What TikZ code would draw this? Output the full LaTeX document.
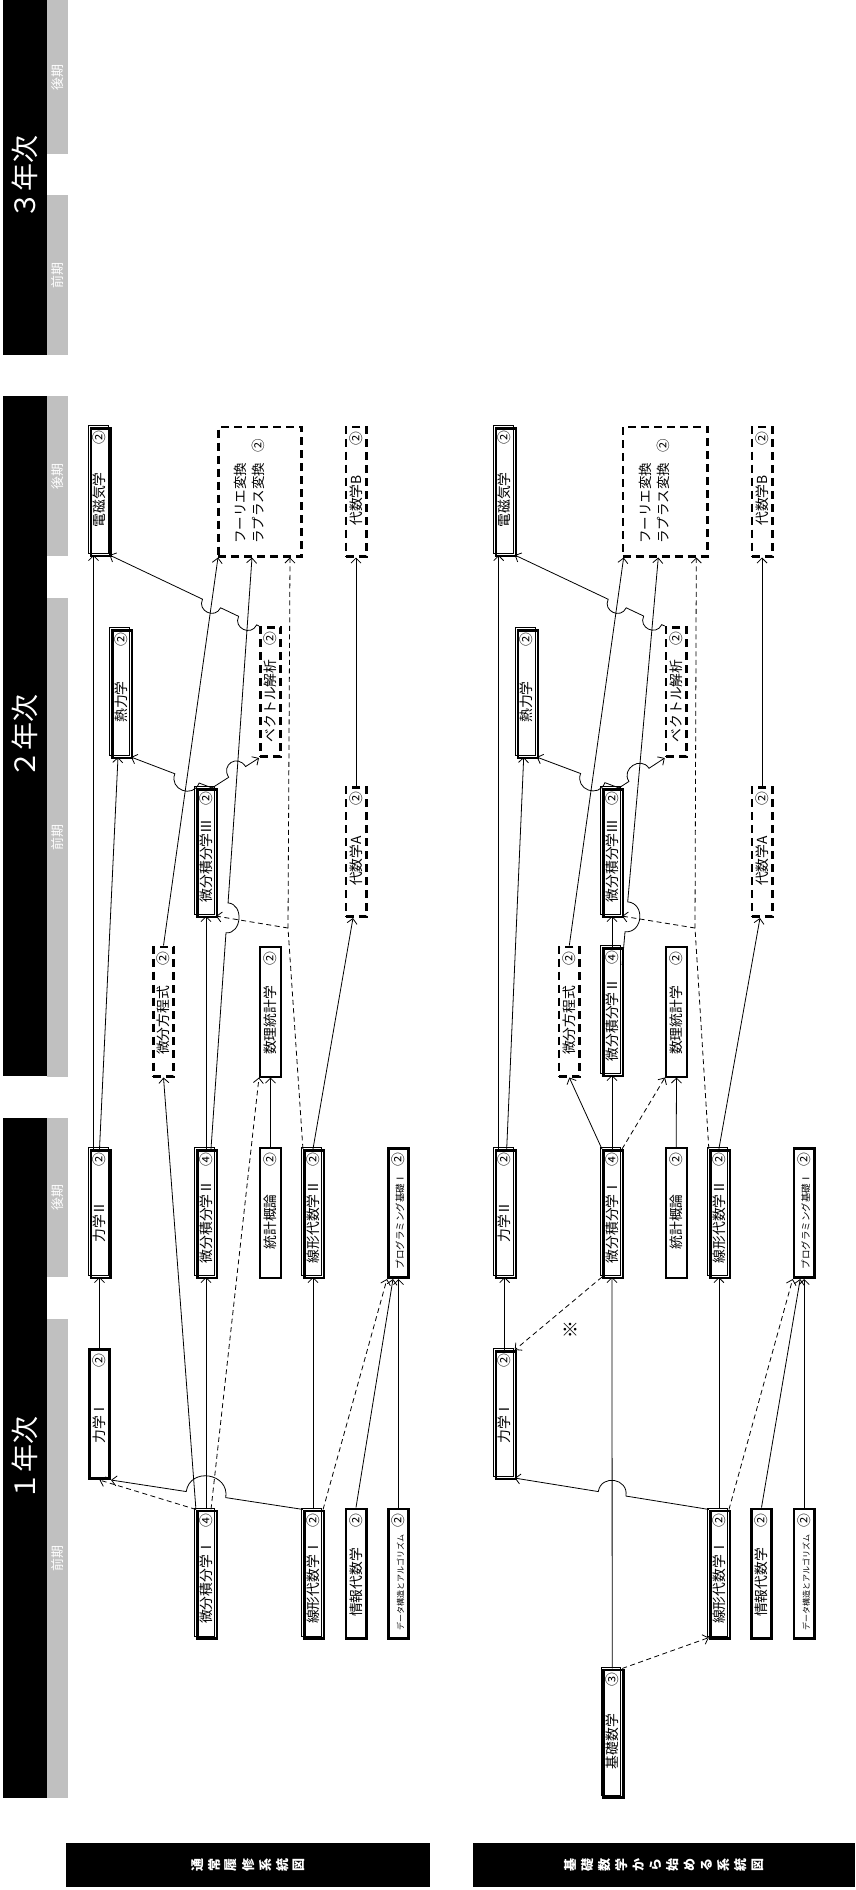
\documentclass[tikz,border=0pt]{standalone}
\usepackage{fontspec}
\setmainfont{Noto Sans CJK JP}
\usepackage{graphicx}
\usetikzlibrary{arrows.meta,calc,intersections}
\definecolor{termgray}{RGB}{192,192,192}
\newcommand\bl[3][]{\rotatebox{90}{\makebox[120pt]{\hfill{#1#2}\hfill\hspace{4pt}#3}}}
\newcommand\tc[1]{\makebox[17pt]{\rotatebox{90}{#1}}}
\newcommand\four{\rotatebox{90}{\fontsize{13.5pt}{18pt}\selectfont\begin{tabular}{@{}l@{}}フーリエ変換\\ラプラス変換\hspace{10pt}②\\ \mbox{}\end{tabular}}}
% #1 style, #2 start, #3 end, #4 crossed path, #5 half width, #6 bulge, #7/#8 angles
\newcommand\jump[8]{%
  \path[name path=jtmp] (#2) -- (#3);
  \path[name intersections={of=jtmp and #4, by=jx}];
  \coordinate (ja) at ($(jx)!#5!(#2)$);
  \coordinate (jb) at ($(jx)!#5!(#3)$);
  \draw[#1] (#2) -- (ja) .. controls ($(ja)!#6!#7:(jb)$) and ($(jb)!#6!#8:(ja)$) .. (jb) -- (#3);
}
\tikzset{
  bbase/.style={inner sep=0pt, font=\fontsize{13.8pt}{16pt}\selectfont},
  sgl/.style={bbase, draw, line width=2.6pt, minimum width=20.4pt, minimum height=129.4pt},
  thn/.style={bbase, draw, line width=2pt, minimum width=21pt, minimum height=130pt},
  dsh/.style={bbase, draw, line width=2.6pt, dash pattern=on 8pt off 5pt, minimum width=20.4pt, minimum height=129.4pt},
  dbl/.style={bbase, minimum width=19.75pt, minimum height=127.75pt,
    preaction={draw, line width=0.9pt, transform canvas={shift={(-1.3pt,1.3pt)}}},
    postaction={draw, line width=2.4pt, transform canvas={shift={(1.3pt,-1.3pt)}}}},
  con/.style={line width=0.8pt, -{Straight Barb[length=5pt,width=10pt]}},
  dcon/.style={con, dash pattern=on 5pt off 3.5pt},
  yearbar/.style={fill=black, text=white, inner sep=0pt, anchor=north west, minimum width=44pt, font=\fontsize{28pt}{30pt}\selectfont},
  termbar/.style={fill=termgray, text=white, inner sep=0pt, anchor=north west, minimum width=21pt, font=\fontsize{13pt}{15pt}\selectfont},
  titlebar/.style={fill=black, text=white, inner sep=0pt, anchor=north west, minimum height=44pt, font=\fontsize{13pt}{15pt}\selectfont\bfseries},
}
\begin{document}
\begin{tikzpicture}[x=1pt,y=-1pt]
\useasboundingbox (0,0) rectangle (855,1890);
% ---------- header column ----------
\node[yearbar, minimum height=355pt] (y3) at (3,0) {\rotatebox{90}{３年次}};
\node[termbar, minimum height=154pt] (t3b) at (47,0) {\rotatebox{90}{後期}};
\node[termbar, minimum height=160pt] (t3a) at (47,195) {\rotatebox{90}{前期}};
\node[yearbar, minimum height=680pt] (y2) at (3,396) {\rotatebox{90}{２年次}};
\node[termbar, minimum height=160pt] (t2b) at (47,396) {\rotatebox{90}{後期}};
\node[termbar, minimum height=479pt] (t2a) at (47,598) {\rotatebox{90}{前期}};
\node[yearbar, minimum height=680pt] (y1) at (3,1118) {\rotatebox{90}{１年次}};
\node[termbar, minimum height=159pt] (t1b) at (47,1118) {\rotatebox{90}{後期}};
\node[termbar, minimum height=479pt] (t1a) at (47,1319) {\rotatebox{90}{前期}};
% ---------- titles ----------
\node[titlebar, minimum width=364pt] (ttl1) at (66,1843) {\tc{通}\tc{常}\tc{履}\tc{修}\tc{系}\tc{統}\tc{図}};
\node[titlebar, minimum width=382pt] (ttl2) at (473,1843) {\tc{基}\tc{礎}\tc{数}\tc{学}\tc{か}\tc{ら}\tc{始}\tc{め}\tc{る}\tc{系}\tc{統}\tc{図}};
% ---------- upper diagram nodes ----------
\node[sgl] (uRk1) at (99.5,1414) {\bl{力学Ⅰ}{②}};
\node[dbl] (uRk2) at (99.5,1213) {\bl{力学Ⅱ}{②}};
\node[dbl] (uDenji) at (99.5,491) {\bl{電磁気学}{②}};
\node[dbl] (uNetsu) at (121,693) {\bl{熱力学}{②}};
\node[dsh] (uBhou) at (163.5,1011.5) {\bl{微分方程式}{②}};
\node[dbl] (uBk1) at (206,1573.5) {\bl{微分積分学Ⅰ}{④}};
\node[dbl] (uBk2) at (206,1213) {\bl{微分積分学Ⅱ}{④}};
\node[dbl] (uBk3) at (206,852) {\bl{微分積分学Ⅲ}{②}};
\node[dsh, minimum width=83.4pt] (uFour) at (260,491.5) {\four};
\node[thn] (uToukei) at (270.5,1213) {\bl{統計概論}{②}};
\node[thn] (uSuuri) at (270.5,1011.5) {\bl{数理統計学}{②}};
\node[dsh] (uVec) at (270.5,692) {\bl{ベクトル解析}{②}};
\node[dbl] (uSk1) at (313,1573.5) {\bl{線形代数学Ⅰ}{②}};
\node[dbl] (uSk2) at (313,1213) {\bl{線形代数学Ⅱ}{②}};
\node[sgl] (uJoho) at (356,1573.5) {\bl{情報代数学}{②}};
\node[dsh] (uDaiA) at (356,852) {\bl{代数学A}{②}};
\node[dsh] (uDaiB) at (356,491.5) {\bl{代数学B}{②}};
\node[sgl] (uData) at (398.5,1573.5) {\bl[\fontsize{8pt}{9pt}\selectfont]{データ構造とアルゴリズム}{②}};
\node[sgl] (uProg) at (398.5,1213) {\bl[\fontsize{9.5pt}{10pt}\selectfont]{プログラミング基礎Ⅰ}{②}};
% ---------- lower diagram nodes ----------
\node[dbl] (lRk1) at (504.7,1414) {\bl{力学Ⅰ}{②}};
\node[dbl] (lRk2) at (504.7,1213) {\bl{力学Ⅱ}{②}};
\node[dbl] (lDenji) at (504.7,491) {\bl{電磁気学}{②}};
\node[dbl] (lNetsu) at (526.7,693) {\bl{熱力学}{②}};
\node[dsh] (lBhou) at (569.3,1011.5) {\bl{微分方程式}{②}};
\node[dbl] (lKiso) at (612.2,1732.5) {\bl{基礎数学}{③}};
\node[dbl] (lBk1) at (612,1213) {\bl{微分積分学Ⅰ}{④}};
\node[dbl] (lBk2) at (612,1011) {\bl{微分積分学Ⅱ}{④}};
\node[dbl] (lBk3) at (612,852) {\bl{微分積分学Ⅲ}{②}};
\node[dsh, minimum width=84.7pt] (lFour) at (665.3,491.5) {\four};
\node[thn] (lToukei) at (676.2,1213) {\bl{統計概論}{②}};
\node[thn] (lSuuri) at (676.5,1011.5) {\bl{数理統計学}{②}};
\node[dsh] (lVec) at (676.2,692) {\bl{ベクトル解析}{②}};
\node[dbl] (lSk1) at (718.9,1573.5) {\bl{線形代数学Ⅰ}{②}};
\node[dbl] (lSk2) at (718.9,1213) {\bl{線形代数学Ⅱ}{②}};
\node[sgl] (lJoho) at (761.5,1573.5) {\bl{情報代数学}{②}};
\node[dsh] (lDaiA) at (762,852) {\bl{代数学A}{②}};
\node[dsh] (lDaiB) at (762,491.5) {\bl{代数学B}{②}};
\node[sgl] (lData) at (804.2,1573.5) {\bl[\fontsize{8pt}{9pt}\selectfont]{データ構造とアルゴリズム}{②}};
\node[sgl] (lProg) at (804.2,1213) {\bl[\fontsize{9.5pt}{10pt}\selectfont]{プログラミング基礎Ⅰ}{②}};
\node[font=\fontsize{18pt}{18pt}\selectfont] (kome) at (570,1330) {※};
% ---------- upper connectors ----------
\draw[con] (uRk1.north) -- (uRk2.south);
\coordinate (uRk2a) at ([xshift=-6pt]uRk2.north);
\coordinate (uDenjia) at ([xshift=-6pt]uDenji.south);
\draw[con] (uRk2a) -- (uDenjia);
\coordinate (uNetsua) at ([xshift=-3pt]uNetsu.south);
\draw[con] (uRk2.north) -- (uNetsua);
\draw[dcon] (uBk1.north west) -- (uRk1.south);
\draw[con] (uBk1.north west) -- (uBhou.south);
\draw[con] (uBk1.north) -- (uBk2.south);
\coordinate (uBk1b) at ([xshift=5pt]uBk1.north);
\draw[dcon] (uBk1b) -- (uSuuri.south west);
\draw[con] (uBk2.north) -- (uBk3.south);
\draw[con] (uToukei.north) -- (uSuuri.south);
\draw[con] (uSk1.north) -- (uSk2.south);
\draw[dcon] (uSk1.north east) -- (uProg.south west);
\coordinate (uProga) at ([xshift=-5.5pt]uProg.south);
\draw[con] (uJoho.north) -- (uProga);
\draw[con] (uData.north) -- (uProg.south);
\coordinate (uDaiAa) at ([xshift=-3pt]uDaiA.south);
\draw[con] (uSk2.north) -- (uDaiAa);
\draw[con] (uDaiA.north) -- (uDaiB.south);
\coordinate (ubend) at (288,928);
\coordinate (uFourc) at ([xshift=30pt]uFour.south);
\draw[dcon] (uSk2.north west) -- (ubend) -- (uFourc);
\draw[dcon] (ubend) -- (uBk3.south east);
\coordinate (uFoura) at ([xshift=1pt]uFour.south west);
\draw[con] (uBhou.north) -- (uFoura);
% crossing helper paths
\path[name path=uV1] (uBk1.north) -- (uBk2.south);
\path[name path=uDB] (ubend) -- (uBk3.south east);
\coordinate (uBk2b) at ([xshift=5pt]uBk2.north);
\coordinate (uFourb) at ([xshift=-8pt]uFour.south);
\path[name path=uB2F] (uBk2b) -- (uFourb);
\path[name path=uDF] (uBhou.north) -- (uFoura);
\coordinate (uBk3c) at ([xshift=6pt]uBk3.north);
% jumping connectors
\jump{con}{uSk1.north west}{uRk1.south east}{uV1}{20pt}{25pt}{-90}{90}
\jump{con}{uBk2b}{uFourb}{uDB}{15pt}{16pt}{-90}{90}
\jump{con}{uBk3c}{uVec.south west}{uB2F}{10pt}{15pt}{90}{-90}
\jump{con}{uBk3c}{uNetsu.south east}{uDF}{13pt}{17pt}{90}{-90}
\path[name path=jtmp] (uVec.north west) -- (uDenji.south east);
\path[name intersections={of=jtmp and uB2F, by=jx1}];
\path[name intersections={of=jtmp and uDF, by=jx2}];
\coordinate (ja1) at ($(jx1)!10pt!(uVec.north west)$);
\coordinate (jb1) at ($(jx1)!10pt!(uDenji.south east)$);
\coordinate (ja2) at ($(jx2)!10pt!(uVec.north west)$);
\coordinate (jb2) at ($(jx2)!10pt!(uDenji.south east)$);
\draw[con] (uVec.north west) -- (ja1) .. controls ($(ja1)!13pt!90:(jb1)$) and ($(jb1)!13pt!-90:(ja1)$) .. (jb1)
  -- (ja2) .. controls ($(ja2)!13pt!90:(jb2)$) and ($(jb2)!13pt!-90:(ja2)$) .. (jb2) -- (uDenji.south east);
% ---------- lower connectors ----------
\draw[con] (lRk1.north) -- (lRk2.south);
\coordinate (lRk2a) at ([xshift=-6pt]lRk2.north);
\coordinate (lDenjia) at ([xshift=-6pt]lDenji.south);
\draw[con] (lRk2a) -- (lDenjia);
\coordinate (lRk2b) at ([xshift=2pt]lRk2.north);
\coordinate (lNetsua) at ([xshift=-3pt]lNetsu.south);
\draw[con] (lRk2b) -- (lNetsua);
\draw[con] (lKiso.north) -- (lBk1.south);
\draw[dcon] (lKiso.north east) -- (lSk1.south west);
\draw[dcon] (lBk1.south west) -- (lRk1.north east);
\draw[con] (lBk1.north west) -- (lBhou.south);
\draw[con] (lBk1.north) -- (lBk2.south);
\draw[dcon] (lBk1.north east) -- (lSuuri.south west);
\draw[con] (lBk2.north) -- (lBk3.south);
\draw[con] (lToukei.north) -- (lSuuri.south);
\draw[con] (lSk1.north) -- (lSk2.south);
\draw[dcon] (lSk1.north east) -- (lProg.south west);
\coordinate (lProga) at ([xshift=-4pt]lProg.south);
\draw[con] (lJoho.north) -- (lProga);
\draw[con] (lData.north) -- (lProg.south);
\coordinate (lDaiAa) at ([xshift=-2pt]lDaiA.south);
\draw[con] (lSk2.north) -- (lDaiAa);
\draw[con] (lDaiA.north) -- (lDaiB.south);
\coordinate (lbend) at (695,928);
\coordinate (lFourc) at ([xshift=31pt]lFour.south);
\draw[dcon] (lSk2.north west) -- (lbend) -- (lFourc);
\draw[dcon] (lbend) -- (lBk3.south east);
\coordinate (lFoura) at ([xshift=2pt]lFour.south west);
\draw[con] (lBhou.north) -- (lFoura);
\path[name path=lV1] (lKiso.north) -- (lBk1.south);
\path[name path=lDB] (lbend) -- (lBk3.south east);
\coordinate (lBk2d) at ($(lBk2.north east)+(0,18)$);
\coordinate (lFourb) at ([xshift=-7pt]lFour.south);
\path[name path=lB2F] (lBk2d) -- (lFourb);
\path[name path=lDF] (lBhou.north) -- (lFoura);
\coordinate (lBk3c) at ([xshift=7pt]lBk3.north);
\jump{con}{lSk1.north west}{lRk1.south east}{lV1}{14pt}{18pt}{-90}{90}
\jump{con}{lBk2d}{lFourb}{lDB}{15pt}{18pt}{-90}{90}
\jump{con}{lBk3c}{lVec.south west}{lB2F}{12pt}{15pt}{90}{-90}
\jump{con}{lBk3c}{lNetsu.south east}{lDF}{13pt}{17pt}{90}{-90}
\path[name path=jtmp] (lVec.north west) -- (lDenji.south east);
\path[name intersections={of=jtmp and lB2F, by=kx1}];
\path[name intersections={of=jtmp and lDF, by=kx2}];
\coordinate (ka1) at ($(kx1)!10pt!(lVec.north west)$);
\coordinate (kb1) at ($(kx1)!10pt!(lDenji.south east)$);
\coordinate (ka2) at ($(kx2)!10pt!(lVec.north west)$);
\coordinate (kb2) at ($(kx2)!10pt!(lDenji.south east)$);
\draw[con] (lVec.north west) -- (ka1) .. controls ($(ka1)!13pt!90:(kb1)$) and ($(kb1)!13pt!-90:(ka1)$) .. (kb1)
  -- (ka2) .. controls ($(ka2)!13pt!90:(kb2)$) and ($(kb2)!13pt!-90:(ka2)$) .. (kb2) -- (lDenji.south east);
\end{tikzpicture}
\end{document}
